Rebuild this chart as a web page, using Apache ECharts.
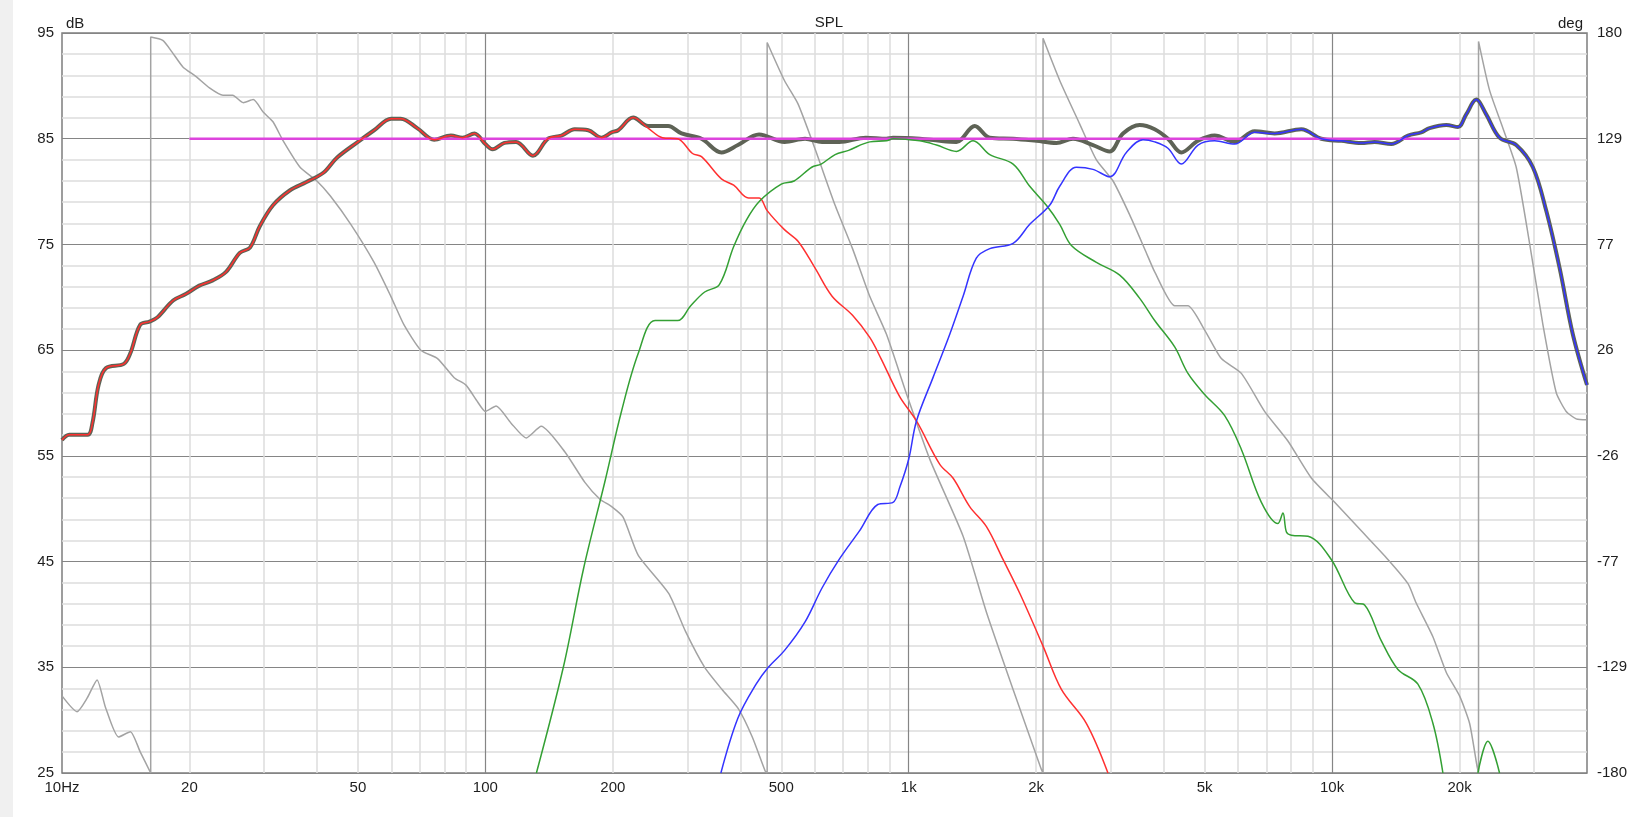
<!DOCTYPE html>
<html>
<head>
<meta charset="utf-8">
<script src="https://cdn.jsdelivr.net/npm/echarts@6/dist/echarts.min.js"></script>
<style>
  html, body { margin: 0; padding: 0; background: #fff; }
  #chart {
    width: 1634px; height: 817px;
    background: linear-gradient(to right, #f0f0f0 13px, #ffffff 13px);
  }
</style>
</head>
<body>
<div id="chart"></div>
<script>
// frequency grid (Hz)
const freqMinorGrid = [20, 30, 40, 50, 60, 70, 80, 90,
  200, 300, 400, 500, 600, 700, 800, 900,
  2000, 3000, 4000, 5000, 6000, 7000, 8000, 9000,
  20000, 30000];
const freqMajorGrid = [100, 1000, 10000];
const freqLabels = [10, 20, 50, 100, 200, 500, 1000, 2000, 5000, 10000, 20000];

// dB grid
const dbMajor = [25, 35, 45, 55, 65, 75, 85, 95];
const dbMinor = [27, 29, 31, 33, 37, 39, 41, 43, 47, 49, 51, 53, 57, 59, 61, 63,
  67, 69, 71, 73, 77, 79, 81, 83, 87, 89, 91, 93];
// phase ticks (deg)
const degTicks = [-180, -128.57, -77.14, -25.71, 25.71, 77.14, 128.57, 180];

// summed response (dB)
const sumSpl = [
  [10, 56.5], [10.4, 57.0], [11.5, 57.0], [11.8, 58.1], [12.2, 61.7], [12.7, 63.3],
  [14.0, 63.7], [14.5, 64.7], [15.3, 67.4], [16.1, 67.7], [16.8, 68.1], [18.3, 69.7],
  [19.6, 70.3], [21.1, 71.1], [22.7, 71.6], [24.4, 72.4], [26.3, 74.2], [27.8, 74.7],
  [29.3, 76.7], [31.5, 78.7], [34.5, 80.1], [37.8, 80.9], [41.5, 81.8], [44.6, 83.2],
  [50, 84.7], [54.6, 85.8], [59.9, 86.9], [63.1, 86.9], [69, 86.0], [75.7, 84.9],
  [82.9, 85.3], [88.3, 85.1], [94.2, 85.5], [100, 84.5], [104, 84.0], [110.9, 84.6],
  [118.2, 84.7], [129.5, 83.4], [140.6, 85.0], [151.3, 85.3], [162.5, 85.9], [175, 85.8],
  [188.1, 85.1], [198.7, 85.6], [205.9, 85.8], [223.4, 87.0],
  [242.3, 86.2], [270.2, 86.2], [290.6, 85.5], [324, 85.0], [361, 83.7], [395, 84.4],
  [443, 85.4], [509, 84.7], [569, 85.0], [624, 84.7], [685, 84.7], [792, 85.1],
  [886, 85.0], [918, 85.1], [1062, 85.0], [1184, 84.8], [1296, 84.7], [1432, 86.2],
  [1554, 85.1], [1764, 85.0], [2002, 84.8], [2232, 84.6], [2443, 85.0], [2724, 84.4],
  [2983, 83.8], [3207, 85.5], [3512, 86.3], [3810, 85.9], [4095, 85.0], [4403, 83.7],
  [4822, 84.8], [5279, 85.3], [5888, 84.7], [6561, 85.7], [7316, 85.5], [8457, 85.9],
  [9428, 85.0], [10510, 84.8], [11720, 84.6], [12600, 84.7], [13795, 84.5], [15110, 85.3],
  [16240, 85.6], [16992, 86.0], [18611, 86.3], [19830, 86.1], [20740, 87.3], [21900, 88.7],
  [23120, 87.3], [24860, 85.1], [27220, 84.4], [29800, 82.3], [32040, 78.2], [34450, 72.8],
  [37030, 66.5], [40000, 61.7]
];

// woofer (dB)
const wooferSpl = [
  [10, 56.5], [10.4, 57.0], [11.5, 57.0], [11.8, 58.1], [12.2, 61.7], [12.7, 63.3],
  [14.0, 63.7], [14.5, 64.7], [15.3, 67.4], [16.1, 67.7], [16.8, 68.1], [18.3, 69.7],
  [19.6, 70.3], [21.1, 71.1], [22.7, 71.6], [24.4, 72.4], [26.3, 74.2], [27.8, 74.7],
  [29.3, 76.7], [31.5, 78.7], [34.5, 80.1], [37.8, 80.9], [41.5, 81.8], [44.6, 83.2],
  [50, 84.7], [54.6, 85.8], [59.9, 86.9], [63.1, 86.9], [69, 86.0], [75.7, 84.9],
  [82.9, 85.3], [88.3, 85.1], [94.2, 85.5], [100, 84.5], [104, 84.0], [110.9, 84.6],
  [118.2, 84.7], [129.5, 83.4], [140.6, 85.0], [151.3, 85.3], [162.5, 85.9], [175, 85.8],
  [188.1, 85.1], [198.7, 85.6], [205.9, 85.8], [223.4, 87.0],
  [242.3, 86.0], [262, 85.1], [284.5, 85.0], [308.5, 83.6], [324, 83.3], [361, 81.2],
  [386, 80.6], [418.5, 79.4], [443.5, 79.4], [463, 78.2], [508.6, 76.4], [547.6, 75.3],
  [600, 72.8], [659, 70.1], [736.6, 68.3], [808.9, 66.2], [860, 64.2], [952, 60.6],
  [1043, 58.3], [1184, 54.2], [1272, 52.9], [1393, 50.2], [1526, 48.3], [1670, 45.2],
  [1829, 42.0], [2076, 37.0], [2294, 32.9], [2627, 29.7], [2955, 25.0]
];

// midrange (dB)
const midSpl = [
  [132, 25], [152.8, 35], [170.5, 44.3], [191.4, 52.5], [209.6, 59.2], [229.7, 64.7],
  [251.7, 67.8], [284.5, 67.8], [305.5, 69.2], [329.6, 70.5], [357, 71.2], [386, 74.8],
  [413.5, 77.3], [444.6, 79.1], [500, 80.7], [536, 81.0], [590, 82.3], [621, 82.6],
  [670, 83.5], [721, 83.9], [808.9, 84.7], [886, 84.8], [918, 85.0], [1062, 84.8],
  [1163, 84.4], [1296, 83.8], [1419, 84.8], [1554, 83.5], [1764, 82.6], [1931, 80.5],
  [2114, 78.7], [2273, 76.9], [2422, 74.9], [2775, 73.3], [3150, 72.1], [3512, 69.9],
  [3810, 67.8], [4248, 65.3], [4566, 62.8], [5000, 60.8], [5575, 58.8], [6105, 55.6],
  [6807, 50.6], [7449, 48.6], [7654, 49.6], [7800, 47.8], [8009, 47.5], [8770, 47.4],
  [9954, 45.2], [11302, 41.1], [11933, 40.9], [13070, 37.5], [14305, 34.8], [15948, 33.4],
  [17300, 29.7], [18270, 25], [null, null],
  [22100, 25], [23330, 28], [24860, 25]
];

// tweeter (dB)
const tweeterSpl = [
  [360, 25], [395, 30.2], [436, 33.4], [466, 35.0], [509, 36.6], [569, 39.3],
  [624, 42.5], [685, 45.2], [765, 47.9], [845, 50.4], [918, 50.6], [952, 52.0],
  [1000, 54.7], [1043, 58.3], [1141, 62.4], [1250, 66.5], [1344, 70.1], [1444, 73.7],
  [1554, 74.6], [1764, 75.1], [1931, 76.9], [2152, 78.7], [2273, 80.5], [2488, 82.3],
  [2724, 82.1], [2983, 81.4], [3266, 83.7], [3575, 84.9], [3810, 84.7], [4095, 84.1],
  [4403, 82.6], [4822, 84.4], [5279, 84.8], [5888, 84.5], [6561, 85.6], [7316, 85.5],
  [8457, 85.9], [9428, 85.0], [10510, 84.8], [11720, 84.6], [12600, 84.7], [13795, 84.5],
  [15110, 85.3], [16240, 85.6], [16992, 86.0], [18611, 86.3], [19830, 86.1], [20740, 87.3],
  [21900, 88.7], [23120, 87.3], [24860, 85.1], [27220, 84.4], [29800, 82.3], [32040, 78.2],
  [34450, 72.8], [37030, 66.5], [40000, 61.7]
];

// target line (dB)
const targetSpl = [[20, 85], [20000, 85]];

// phase of the sum (deg)
const sumPhase = [
  [10, -142.5], [10.85, -150.2], [11.47, -143.5], [12.1, -134.7], [12.67, -148.1],
  [13.6, -162.5], [14.5, -159.9], [15.3, -169.7], [16.2, -180], [16.2, 178],
  [17.3, 176.4], [18.2, 170.7], [19.3, 163.5], [20.7, 158.9], [22.3, 153.3], [24, 149.7],
  [25.3, 149.7], [26.8, 146.1], [28.3, 147.6], [29.9, 141.4], [31.5, 136.8], [33.3, 127.5],
  [36.5, 114.7], [40, 108], [43, 100.8], [48.1, 86.9], [54.6, 68.4], [59.8, 51.9],
  [64.2, 38.1], [70.4, 25.7], [77.1, 21.6], [84.4, 12.3], [90, 8.7], [95.9, 0.5],
  [100, -4.1], [106, -1.5], [115, -9.8], [124.9, -17], [135.5, -11.3], [154, -23.7],
  [171.8, -38.6], [186.5, -46.8], [198.7, -50.4], [211.5, -55.5], [229.7, -74.1],
  [271, -92.6], [297, -111.1], [329.6, -128.6], [362.3, -139.4], [395.4, -148.6],
  [427, -162.5], [458, -179], [463, -180], [463, 175.4],
  [508.6, 156.9], [547.6, 145.5], [600, 123.9], [670, 96.2], [736.6, 75.1], [808.9, 51.9],
  [886, 33.4], [993, 3.1], [1121, -27.3], [1344, -64.8], [1526, -101.8], [1764, -139.4],
  [2050, -177.4], [2076, -180], [2076, 177.4],
  [2273, 156.9], [2533, 135.8], [2775, 118.3], [3038, 108], [3326, 91.5], [3642, 73],
  [3810, 63.8], [4248, 47.3], [4566, 47.3], [5000, 35.5], [5475, 21.6], [6105, 14.4],
  [6926, -4.1], [7863, -18.5], [8930, -36.5], [10140, -48.3], [11720, -62.2],
  [13545, -76.1], [15110, -87.9], [15790, -97.2], [17300, -113.7], [18611, -131.1],
  [20000, -142.5], [21120, -155.8], [21980, -176.4], [22175, -180], [22175, 175.9],
  [23540, 152.2], [25320, 133.7], [27220, 114.7], [29270, 77.7], [31470, 38.1],
  [33830, 5.1], [35720, -4.1], [37710, -7.7], [40000, -8.2]
];

const textColor = "#1e1e1e";
const fontFamily = "Liberation Sans, Arial, sans-serif";
const labelSize = 15;

const chart = echarts.init(document.getElementById("chart"), null, { renderer: "canvas" });

function fmtFreq(v) {
  if (v === 10) return "10Hz";
  if (v >= 1000) return v / 1000 + "k";
  return String(v);
}

const logX = {
  type: "log",
  logBase: 10,
  min: 10,
  max: 40000,
  position: "bottom",
  gridIndex: 0,
};

// SPL curves share the same look, only colour / width / data differ
function splSeries(name, data, color, width, z) {
  return {
    name: name,
    type: "line",
    xAxisIndex: 0,
    yAxisIndex: 0,
    data: data,
    showSymbol: false,
    connectNulls: false,
    smooth: 0.35,
    lineStyle: { color: color, width: width },
    z: z,
  };
}

chart.setOption({
  animation: false,
  backgroundColor: "transparent",
  textStyle: { fontFamily: fontFamily },
  title: {
    text: "SPL",
    left: 824,
    top: 10,
    textAlign: "center",
    textStyle: { fontSize: labelSize, fontWeight: "normal", color: textColor, fontFamily: fontFamily },
  },
  grid: {
    left: 62,
    right: 47,
    top: 33,
    bottom: 44,
    show: true,
    borderColor: "#7d7d7d",
    borderWidth: 1.5,
    backgroundColor: "#fff",
  },
  xAxis: [
    // minor frequency grid
    Object.assign({}, logX, {
      axisLine: { show: false },
      axisTick: { show: false, customValues: freqMinorGrid },
      axisLabel: { show: false },
      splitLine: { show: true, lineStyle: { color: "#dcdcdc", width: 1.5 } },
    }),
    // major frequency grid + labels
    Object.assign({}, logX, {
      axisLine: { show: false },
      axisTick: { show: false, customValues: freqMajorGrid },
      axisLabel: {
        show: true,
        customValues: freqLabels,
        formatter: fmtFreq,
        color: textColor,
        fontSize: labelSize,
        margin: 7,
      },
      splitLine: { show: true, lineStyle: { color: "#858585", width: 1.2 } },
    }),
  ],
  yAxis: [
    // dB major + labels
    {
      type: "value",
      min: 25,
      max: 95,
      position: "left",
      name: "dB",
      nameLocation: "end",
      nameGap: 9,
      nameTextStyle: { color: textColor, fontSize: labelSize, align: "left", verticalAlign: "middle", padding: [0, 0, 0, 4] },
      axisLine: { show: false },
      axisTick: { show: false, customValues: dbMajor },
      axisLabel: { customValues: dbMajor, color: textColor, fontSize: labelSize, margin: 8 },
      splitLine: { show: true, lineStyle: { color: "#858585", width: 1.2 } },
    },
    // dB minor grid
    {
      type: "value",
      min: 25,
      max: 95,
      position: "left",
      axisLine: { show: false },
      axisTick: { show: false, customValues: dbMinor },
      axisLabel: { show: false },
      splitLine: { show: true, lineStyle: { color: "#dcdcdc", width: 1.5 } },
    },
    // phase
    {
      type: "value",
      min: -180,
      max: 180,
      position: "right",
      name: "deg",
      nameLocation: "end",
      nameGap: 9,
      nameTextStyle: { color: textColor, fontSize: labelSize, align: "right", verticalAlign: "middle", padding: [0, 4, 0, 0] },
      axisLine: { show: false },
      axisTick: { show: false, customValues: degTicks },
      axisLabel: {
        customValues: degTicks,
        formatter: (v) => String(Math.round(v)),
        color: textColor,
        fontSize: labelSize,
        margin: 10,
      },
      splitLine: { show: false },
    },
  ],
  series: [
    {
      name: "Phase",
      type: "line",
      xAxisIndex: 0,
      yAxisIndex: 2,
      data: sumPhase,
      showSymbol: false,
      smooth: 0.2,
      lineStyle: { color: "#a3a3a3", width: 1.5 },
      z: 3,
    },
    splSeries("Sum", sumSpl, "#5e6356", 4, 4),
    {
      name: "Target",
      type: "line",
      xAxisIndex: 0,
      yAxisIndex: 0,
      data: targetSpl,
      showSymbol: false,
      lineStyle: { color: "#dd44dd", width: 2.5 },
      z: 5,
    },
    splSeries("Woofer", wooferSpl, "#ff3030", 1.5, 6),
    splSeries("Mid", midSpl, "#34a034", 1.5, 6),
    splSeries("Tweeter", tweeterSpl, "#3434ff", 1.5, 7),
  ],
});
</script>
</body>
</html>
